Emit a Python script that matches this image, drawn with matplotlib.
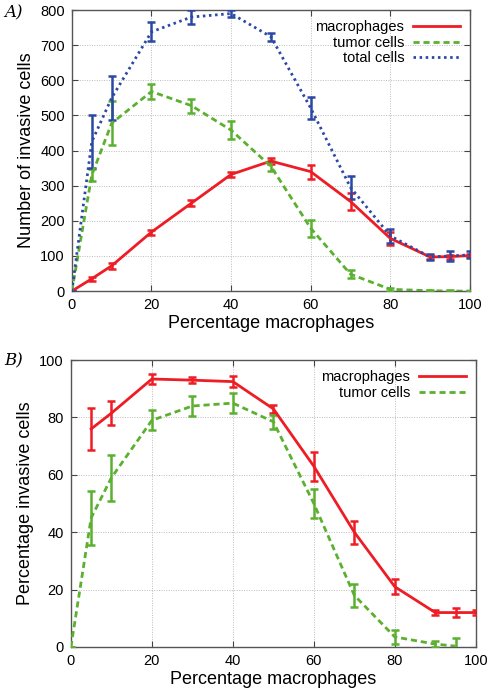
import matplotlib
matplotlib.use('Agg')
from matplotlib import pyplot as plt
from matplotlib.lines import Line2D

plt.rcParams['font.family'] = ['Liberation Sans', 'DejaVu Sans']

# panel A: number of invasive cells
pct_a = [0, 5, 10, 20, 30, 40, 50, 60, 70, 80, 90, 95, 100]
macro_a = [0, 35, 72, 168, 250, 332, 370, 340, 255, 150, 97, 98, 101]
macro_a_err = [0, 6, 9, 7, 9, 7, 8, 20, 25, 18, 6, 6, 5]
tumor_a = [0, 330, 478, 568, 528, 458, 355, 179, 48, 5, 1, 0, 0]
tumor_a_err = [0, 18, 62, 22, 20, 25, 14, 24, 12, 4, 2, 2, 0]
total_a = [0, 425, 550, 738, 780, 790, 724, 521, 295, 157, 97, 100, 103]
total_a_err = [0, 75, 62, 27, 20, 10, 12, 31, 32, 20, 9, 14, 10]

# panel B: percentage invasive cells
pct_b_macro = [5, 10, 20, 30, 40, 50, 60, 70, 80, 90, 95, 100]
macro_b = [76, 81.5, 93.4, 93, 92.5, 83, 63, 40, 21, 12, 12, 12]
macro_b_err = [7.3, 4.2, 1.8, 1, 1.8, 1.3, 5, 4, 2.7, 0.8, 1.5, 1]
pct_b_tumor = [0, 5, 10, 20, 30, 40, 50, 60, 70, 80, 90, 95]
tumor_b = [0, 45, 59, 79, 84, 85, 78.5, 50, 18, 3.5, 1, 0.3]
tumor_b_err = [0, 9.3, 8, 3.5, 3.5, 3.5, 2.5, 5, 4, 2.5, 1, 3]

red = '#ee1c24'
green = '#5cb030'
blue = '#2b48a5'
dash = (0, (2.2, 1.4))
dots = (0, (0.9, 1.3))


def style_axes(ax, ymax, ystep):
    ax.set_xlim(0, 100)
    ax.set_ylim(0, ymax)
    ax.set_xticks(range(0, 101, 20))
    ax.set_yticks(range(0, ymax + 1, ystep))
    ax.grid(True, color='#bbbbbb', linestyle=(0, (1, 1.5)), linewidth=0.7)
    ax.tick_params(direction='in', top=True, right=True, labelsize=10.5,
                   length=4, color='#444444', pad=5)
    for s in ax.spines.values():
        s.set_color('#555555')
        s.set_linewidth(1.0)
    ax.set_xlabel('Percentage macrophages', fontsize=13, labelpad=2)


def draw(ax, x, y, err, color, ls):
    ax.errorbar(x, y, yerr=err, color=color, linestyle=ls, linewidth=2,
                elinewidth=1.8, capsize=3, capthick=1.8, zorder=3)
    return Line2D([], [], color=color, linestyle=ls, linewidth=2)


def add_legend(ax, handles, labels):
    ax.legend(handles, labels, loc='upper right', frameon=False,
              markerfirst=False, fontsize=10.5, handlelength=3.2,
              handletextpad=0.6, labelspacing=0.1, borderaxespad=0.3,
              alignment='right')


fig = plt.figure(figsize=(4.89, 6.93), dpi=100)

ax1 = fig.add_axes([0.147, 0.58, 0.814, 0.4055])
style_axes(ax1, 800, 100)
h1 = draw(ax1, pct_a, macro_a, macro_a_err, red, '-')
h2 = draw(ax1, pct_a, tumor_a, tumor_a_err, green, dash)
h3 = draw(ax1, pct_a, total_a, total_a_err, blue, dots)
ax1.set_ylabel('Number of invasive cells', fontsize=13, labelpad=4)
add_legend(ax1, [h1, h2, h3], ['macrophages', 'tumor cells', 'total cells'])
fig.text(0.008, 0.975, 'A)', fontsize=12, family='DejaVu Serif', style='italic')

ax2 = fig.add_axes([0.145, 0.0664, 0.828, 0.414])
style_axes(ax2, 100, 20)
h1 = draw(ax2, pct_b_macro, macro_b, macro_b_err, red, '-')
h2 = draw(ax2, pct_b_tumor, tumor_b, tumor_b_err, green, dash)
ax2.set_ylabel('Percentage invasive cells', fontsize=13, labelpad=4)
add_legend(ax2, [h1, h2], ['macrophages', 'tumor cells'])
fig.text(0.008, 0.473, 'B)', fontsize=12, family='DejaVu Serif', style='italic')

plt.savefig('out.png', dpi=100)
